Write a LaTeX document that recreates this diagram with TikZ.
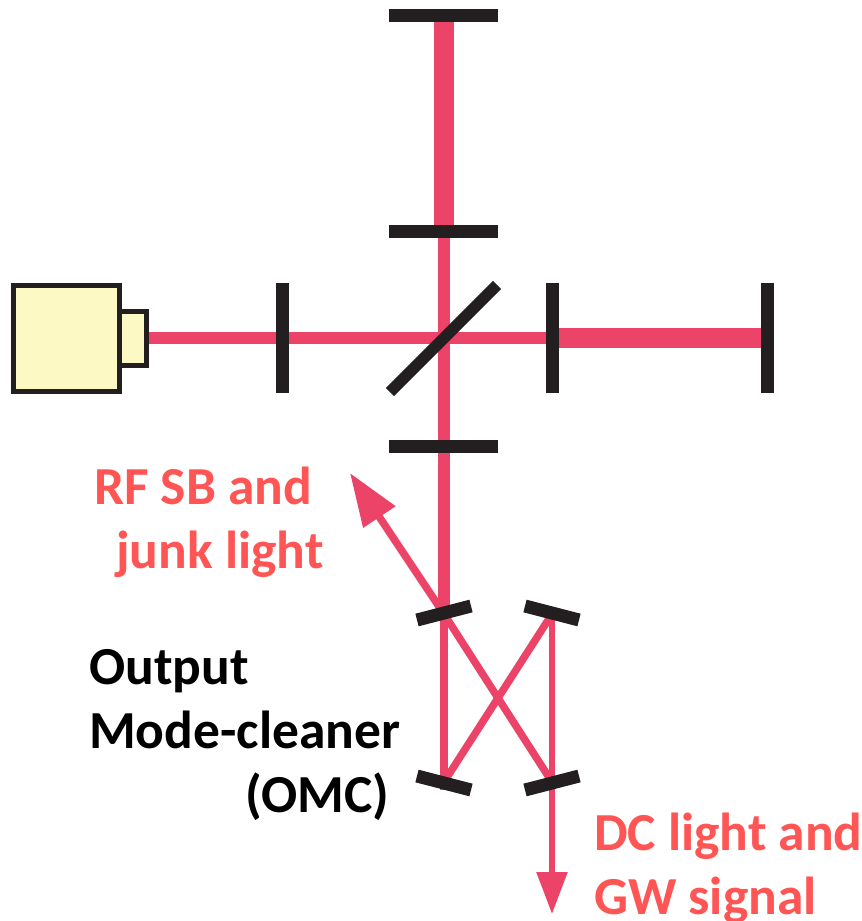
\documentclass[tikz,border=0pt]{standalone}
\usepackage{fontspec}
\setmainfont{Carlito}
\usetikzlibrary{arrows.meta, calc, positioning}
\definecolor{beamred}{RGB}{236,68,104}
\definecolor{labelred}{RGB}{255,85,85}
\definecolor{mirrorblack}{RGB}{35,31,32}
\definecolor{laseryellow}{RGB}{253,249,196}
\tikzset{
  mirror/.style={line width=13pt, draw=mirrorblack},
  beamthin/.style={draw=beamred, line width=12.5pt},
  beamthick/.style={draw=beamred, line width=20pt},
  beamomc/.style={draw=beamred, line width=7.5pt},
  laserbox/.style={line width=5pt, draw=mirrorblack, fill=laseryellow},
  redlabel/.style={text=labelred, font=\bfseries\fontsize{53.5}{60}\selectfont},
  blacklabel/.style={text=black, font=\bfseries\fontsize{53.5}{60}\selectfont},
}
\begin{document}
\begin{tikzpicture}[x=1pt, y=-1pt, >=Stealth]
  \useasboundingbox (0,0) rectangle (862,921);
  % Points on the beams
  \coordinate (top) at (444,15);
  \coordinate (itmy) at (444,231);
  \coordinate (srm) at (444,446);
  \coordinate (itmx) at (552,338);
  \coordinate (etmx) at (767,338);
  \coordinate (laserout) at (148,338);
  \coordinate (omca) at (444,614);
  \coordinate (omcb) at (552,614);
  \coordinate (omcc) at (444,782);
  \coordinate (omcd) at (552,782);

  % Beams
  \draw[beamthick] (top) -- (itmy);
  \draw[beamthick] (itmx) -- (etmx);
  \draw[beamthin] (laserout) -- (itmx);
  \draw[beamthin] (itmy) -- (omca);
  \draw[beamomc] (omca) -- (444,790);
  \draw[beamomc] (omca) -- (omcd);
  \draw[beamomc] (omcb) -- (omcc);
  \draw[beamomc, line width=5.6pt] (552,607) -- (omcd);
  \draw[beamomc, -{Triangle[length=53pt, width=37pt]}] (omca) -- (350,473);
  \draw[beamomc, line width=5.6pt, -{Triangle[length=42pt, width=30pt]}] (omcd) -- (552,914);

  % Laser
  \draw[laserbox] (13.5,285.5) rectangle (119.5,391.5);
  \draw[laserbox] (119.5,311.5) rectangle (146.5,365.5);

  % Mirrors
  \draw[mirror] (389,15) -- (498,15);
  \draw[mirror] (389,231) -- (498,231);
  \draw[mirror] (389,446) -- (498,446);
  \draw[mirror] (282,283) -- (282,393);
  \draw[mirror] (552,283) -- (552,393);
  \draw[mirror] (767,283) -- (767,393);
  \draw[mirror, line width=11.5pt] (390,392) -- (497,285);
  \draw[mirror] (417,620) -- (471,606);
  \draw[mirror] (525,606) -- (579,620);
  \draw[mirror] (417,776) -- (471,790);
  \draw[mirror] (525,790) -- (579,776);

  % Labels
  \node[redlabel, anchor=base west, inner sep=0pt] (rflabel) at (94,504) {RF SB and};
  \node[redlabel, anchor=base west, inner sep=0pt] (junklabel) at (116,568) {junk light};
  \node[blacklabel, anchor=base west, inner sep=0pt] (outlabel) at (89,684) {Output};
  \node[blacklabel, anchor=base west, inner sep=0pt] (modelabel) at (89,748) {Mode-cleaner};
  \node[blacklabel, anchor=base west, inner sep=0pt] (omclabel) at (245,812) {(OMC)};
  \node[redlabel, anchor=base west, inner sep=0pt] (dclabel) at (594,850) {DC light and};
  \node[redlabel, anchor=base west, inner sep=0pt] (gwlabel) at (594,914) {GW signal};
\end{tikzpicture}
\end{document}
